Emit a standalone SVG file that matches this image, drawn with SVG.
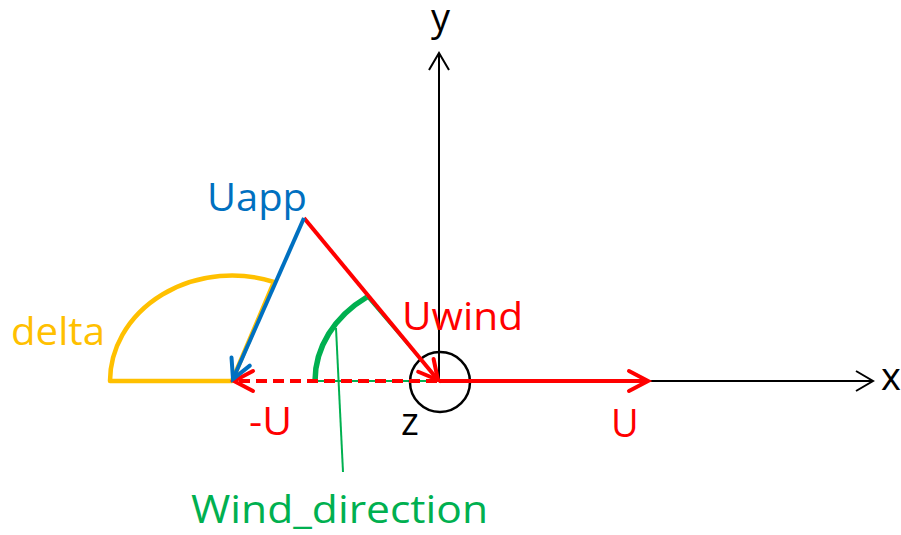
<svg xmlns="http://www.w3.org/2000/svg" width="901" height="535" viewBox="0 0 901 535">
<style>
text{font-family:"Open Sans","Liberation Sans",sans-serif;font-size:38px}
.ax{stroke:#000;stroke-width:2;fill:none}
.red{stroke:#FF0000;fill:none;stroke-width:4}
.blue{stroke:#0070C0;fill:none;stroke-width:4}
</style>
<defs>
<marker id="ab" markerUnits="userSpaceOnUse" markerWidth="30" markerHeight="30" refX="0" refY="0" orient="auto" overflow="visible"><path d="M-17,-10 L0,0 L-17,10" fill="none" stroke="#000" stroke-width="2"/></marker>
<marker id="ar" markerUnits="userSpaceOnUse" markerWidth="30" markerHeight="30" refX="0" refY="0" orient="auto" overflow="visible"><path d="M-19,-10 L0,0 L-19,10" fill="none" stroke="#FF0000" stroke-width="4" stroke-linecap="round"/></marker>
<marker id="abl" markerUnits="userSpaceOnUse" markerWidth="30" markerHeight="30" refX="0" refY="0" orient="auto" overflow="visible"><path d="M-19,-10 L0,0 L-19,10" fill="none" stroke="#0070C0" stroke-width="4" stroke-linecap="round"/></marker>
</defs>
<rect width="901" height="535" fill="#fff"/>
<g id="angles">
<path id="delta-arc" d="M232,381 L110,381 A122,106 0 0 1 274,282 Z" fill="none" stroke="#FFC000" stroke-width="4.5" stroke-linejoin="round"/>
<path d="M439,381 L315,381 M367,297 L439,381" stroke="#00B050" stroke-width="2" fill="none"/>
<path id="wind-arc" d="M315,381 A124,103 0 0 1 367,297" stroke="#00B050" stroke-width="5.5" fill="none"/>
<line x1="336" y1="328" x2="343" y2="472" stroke="#00B050" stroke-width="2"/>
</g>
<g id="axes">
<line class="ax" x1="439" y1="381" x2="439" y2="53" marker-end="url(#ab)"/>
<line class="ax" x1="439" y1="381" x2="873" y2="381" marker-end="url(#ab)"/>
<circle cx="440" cy="382" r="30" fill="none" stroke="#000" stroke-width="2.5"/>
</g>
<g id="connectors">
<line class="red" x1="439" y1="381" x2="648" y2="381" stroke-width="3" marker-end="url(#ar)"/>
<line class="red" x1="437" y1="381" x2="234" y2="381" stroke-dasharray="11,6" marker-end="url(#ar)"/>
<line class="red" x1="304" y1="218" x2="438" y2="380" marker-end="url(#ar)"/>
<line class="blue" x1="304" y1="218" x2="233" y2="379" marker-end="url(#abl)"/>
</g>
<g id="labels">
<text x="431" y="31" fill="#000">y</text>
<text x="881" y="390" fill="#000">x</text>
<text x="401" y="435" fill="#000">z</text>
<text x="207" y="211" fill="#0070C0" textLength="100" lengthAdjust="spacingAndGlyphs">Uapp</text>
<text x="402" y="330" fill="#FF0000" textLength="121" lengthAdjust="spacingAndGlyphs">Uwind</text>
<text x="11" y="345" fill="#FFC000" textLength="94" lengthAdjust="spacingAndGlyphs">delta</text>
<text x="249" y="435" fill="#FF0000" textLength="43" lengthAdjust="spacingAndGlyphs">-U</text>
<text x="611" y="437" fill="#FF0000">U</text>
<text x="191" y="523" fill="#00B050" textLength="297" lengthAdjust="spacingAndGlyphs">Wind_direction</text>
</g>
</svg>
